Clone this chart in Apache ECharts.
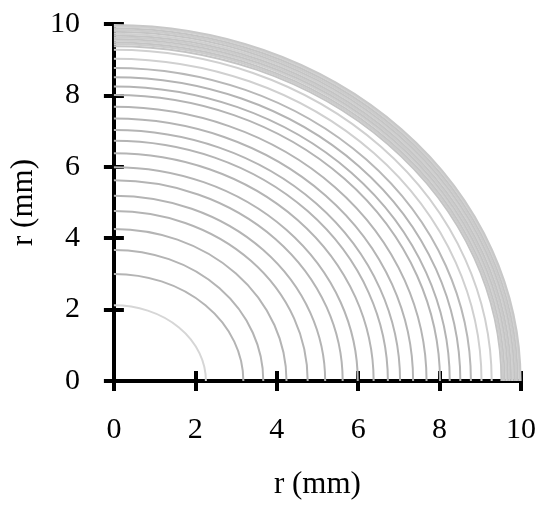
<!DOCTYPE html>
<html>
<head>
<meta charset="utf-8">
<script src="https://cdn.jsdelivr.net/npm/echarts@6/dist/echarts.min.js"></script>
<style>html,body{margin:0;padding:0;background:#fff}#c{width:550px;height:505px}</style>
</head>
<body>
<div id="c"></div>
<script>
// Contour radii (radius on y axis, radius on x axis)
var innerRY = [2.12, 3.00, 3.67, 4.26, 4.76, 5.19, 5.62, 5.99, 6.38, 6.73, 7.03, 7.35, 7.68, 8.01, 8.25, 8.51, 8.77, 9.03, 9.28];
var innerRX = [2.26, 3.18, 3.67, 4.24, 4.76, 5.19, 5.62, 5.99, 6.38, 6.73, 7.03, 7.35, 7.68, 8.01, 8.25, 8.51, 8.77, 9.03, 9.28];
var innerShade = ['#d6d6d6', '#b4b4b4', '#b4b4b4', '#b4b4b4', '#b4b4b4', '#b4b4b4', '#b4b4b4', '#b4b4b4', '#b4b4b4', '#b4b4b4', '#b4b4b4', '#b4b4b4', '#b4b4b4', '#b4b4b4', '#b4b4b4', '#b4b4b4', '#b8b8b8', '#d0d0d0', '#d0d0d0'];
var bandRY = [9.38, 9.43, 9.48, 9.53, 9.58, 9.63, 9.68, 9.73, 9.78, 9.83, 9.88, 9.93, 9.97];
var bandRX = [9.52, 9.56, 9.60, 9.64, 9.68, 9.72, 9.76, 9.80, 9.84, 9.88, 9.92, 9.96, 9.99];
var bandShade = ['#c4c4c4', '#cccccc', '#c4c4c4', '#d0d0d0', '#c4c4c4', '#cccccc', '#c4c4c4', '#d0d0d0', '#c4c4c4', '#cccccc', '#c4c4c4', '#d0d0d0', '#c8c8c8'];
var xTicks = [0, 2, 4, 6, 8, 10];
var yTicks = [0, 2, 4, 6, 8, 10];

var rows = [];
for (var i = 0; i < innerRY.length; i++) rows.push([innerRX[i], innerRY[i], innerShade[i]]);
for (var j = 0; j < bandRY.length; j++) rows.push([bandRX[j], bandRY[j], bandShade[j]]);

var FONT = 'Liberation Serif';
function axisBase(extra) {
  var a = {
    type: 'value', min: xTicks[0], max: xTicks[xTicks.length - 1], interval: 2,
    splitLine: { show: false },
    axisLine: { show: true, lineStyle: { color: '#000', width: 4 } },
    axisTick: { show: true, length: 10, lineStyle: { color: '#000', width: 4 } },
    axisLabel: { color: '#000', fontFamily: FONT, fontSize: 30 }
  };
  for (var k in extra) a[k] = extra[k];
  return a;
}

var chart = echarts.init(document.getElementById('c'));
chart.setOption({
  animation: false,
  grid: { left: 113, right: 29, top: 24, bottom: 121 },
  xAxis: [
    axisBase({ position: 'bottom', axisLabel: { color: '#000', fontFamily: FONT, fontSize: 30, margin: 34 },
      name: 'r (mm)', nameLocation: 'middle', nameGap: 88,
      nameTextStyle: { color: '#000', fontFamily: FONT, fontSize: 31 } }),
    axisBase({ position: 'bottom', axisTick: { show: true, inside: true, length: 10, lineStyle: { color: '#000', width: 4 } },
      axisLabel: { show: false } })
  ],
  yAxis: [
    axisBase({ min: yTicks[0], max: yTicks[yTicks.length - 1], position: 'left',
      axisLabel: { color: '#000', fontFamily: FONT, fontSize: 30, margin: 34 },
      name: 'r (mm)', nameLocation: 'middle', nameGap: 67,
      nameTextStyle: { color: '#000', fontFamily: FONT, fontSize: 31 } }),
    axisBase({ min: yTicks[0], max: yTicks[yTicks.length - 1], position: 'left',
      axisTick: { show: true, inside: true, length: 10, lineStyle: { color: '#000', width: 4 } },
      axisLabel: { show: false } })
  ],
  series: [{
    type: 'custom',
    xAxisIndex: 0, yAxisIndex: 0,
    data: rows,
    encode: { x: 0, y: 1 },
    clip: false,
    renderItem: function (params, api) {
      var rx = api.value(0), ry = api.value(1);
      var color = rows[params.dataIndex][2];
      var o = api.coord([0, 0]);
      var top = api.coord([0, ry]);
      var right = api.coord([rx, 0]);
      var a = right[0] - o[0], b = o[1] - top[1];
      var d = 'M ' + top[0] + ' ' + top[1] + ' A ' + a + ' ' + b + ' 0 0 1 ' + right[0] + ' ' + right[1];
      return {
        type: 'path',
        shape: { pathData: d },
        style: { fill: null, stroke: color, lineWidth: 2 }
      };
    },
    z: 1
  }]
});
</script>
</body>
</html>
